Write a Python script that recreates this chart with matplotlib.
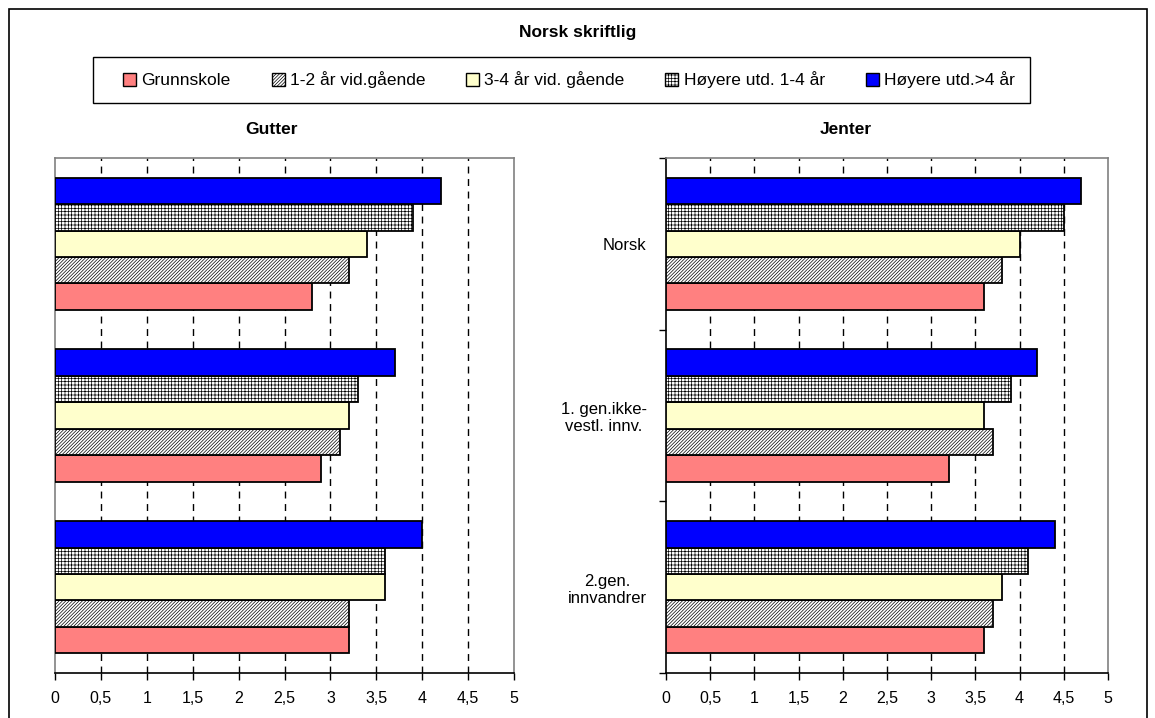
import matplotlib
matplotlib.use("Agg")
import matplotlib.pyplot as plt
import numpy as np
from matplotlib.patches import Rectangle, Patch
from matplotlib.ticker import FuncFormatter

plt.rcParams['font.family'] = ['Liberation Sans', 'DejaVu Sans']
plt.rcParams['hatch.linewidth'] = 0.5

# ---------------- data ----------------
title = "Norsk skriftlig"
panel_titles = ["Gutter", "Jenter"]
categories = ["Norsk", "1. gen.ikke-\nvestl. innv.", "2.gen.\ninnvandrer"]
series = ["Grunnskole", "1-2 år vid.gående", "3-4 år vid. gående",
          "Høyere utd. 1-4 år", "Høyere utd.>4 år"]

gutter_grunnskole = [2.8, 2.9, 3.2]
gutter_vg12 = [3.2, 3.1, 3.2]
gutter_vg34 = [3.4, 3.2, 3.6]
gutter_hoy14 = [3.9, 3.3, 3.6]
gutter_hoy4 = [4.2, 3.7, 4.0]

jenter_grunnskole = [3.6, 3.2, 3.6]
jenter_vg12 = [3.8, 3.7, 3.7]
jenter_vg34 = [4.0, 3.6, 3.8]
jenter_hoy14 = [4.5, 3.9, 4.1]
jenter_hoy4 = [4.7, 4.2, 4.4]

x_ticks = [0, 0.5, 1, 1.5, 2, 2.5, 3, 3.5, 4, 4.5, 5]

# ---------------- style ----------------
styles = [
    dict(facecolor="#FF8080", hatch=None),
    dict(facecolor="white", hatch="//////////"),
    dict(facecolor="#FFFFCC", hatch=None),
    dict(facecolor="white", hatch="+++++"),
    dict(facecolor="#0000FF", hatch=None),
]

W, H = 1155, 718
fig = plt.figure(figsize=(W / 100, H / 100), dpi=100)

# outer border
fig.patches.append(Rectangle((9 / W, -0.02), (1147 - 9) / W, 1 - 9 / H + 0.02,
                             transform=fig.transFigure, fill=False,
                             edgecolor="black", lw=1.2))
# legend frame
fig.patches.append(Rectangle((93 / W, 1 - 103 / H), (1030 - 93) / W, 46 / H,
                             transform=fig.transFigure, fill=False,
                             edgecolor="black", lw=1.0))


def rect(x0, x1, ytop, ybot):
    return [x0 / W, 1 - ybot / H, (x1 - x0) / W, (ybot - ytop) / H]


ax_l = fig.add_axes(rect(55, 514, 158, 673))
ax_r = fig.add_axes(rect(666, 1108, 158, 673))

panels = [
    (ax_l, [gutter_grunnskole, gutter_vg12, gutter_vg34, gutter_hoy14, gutter_hoy4]),
    (ax_r, [jenter_grunnskole, jenter_vg12, jenter_vg34, jenter_hoy14, jenter_hoy4]),
]

bh = 0.154
ypos = np.arange(len(categories))
for ax, vals in panels:
    for j, (v, st) in enumerate(zip(vals, styles)):
        ax.barh(ypos + (2 - j) * bh, v, height=bh, color=st["facecolor"],
                hatch=st["hatch"], edgecolor="black", linewidth=1.3,
                zorder=3, label=series[j])
    for t in x_ticks[1:-1]:
        ax.axvline(t, color="black", lw=1.0, ls=(0, (5, 4)), zorder=1)
    ax.set_xlim(0, 5)
    ax.set_ylim(2.5, -0.5)
    ax.set_xticks(x_ticks)
    ax.xaxis.set_major_formatter(FuncFormatter(lambda x, p: ("%g" % x).replace(".", ",")))
    ax.tick_params(axis="x", direction="out", length=5, width=1, labelsize=11.5, pad=8)
    for s in ["top", "right"]:
        ax.spines[s].set_color("#808080")
        ax.spines[s].set_linewidth(1.2)
    ax.spines["bottom"].set_color("black")
    ax.spines["bottom"].set_linewidth(1.2)

# left panel: no y labels, gray left frame
ax_l.spines["left"].set_color("#808080")
ax_l.spines["left"].set_linewidth(1.2)
ax_l.set_yticks([])

# right panel: black y axis with boundary ticks and category labels
ax_r.spines["left"].set_color("black")
ax_r.spines["left"].set_linewidth(1.2)
ax_r.set_yticks([-0.5, 0.5, 1.5, 2.5])
ax_r.set_yticklabels([])
ax_r.tick_params(axis="y", which="major", direction="out", length=5, width=1)
ax_r.set_yticks(ypos, minor=True)
ax_r.set_yticklabels(categories, minor=True, fontsize=12, multialignment="center")
ax_r.tick_params(axis="y", which="minor", length=0, pad=14)

# titles
fig.text(578 / W, 1 - 33 / H, title, ha="center", va="center",
         fontsize=12.5, fontweight="bold")
fig.text(272 / W, 1 - 129 / H, panel_titles[0], ha="center", va="center",
         fontsize=12.5, fontweight="bold")
fig.text(846 / W, 1 - 129 / H, panel_titles[1], ha="center", va="center",
         fontsize=12.5, fontweight="bold")

# legend (content only; frame drawn above)
handles = [Patch(facecolor=st["facecolor"], hatch=st["hatch"], edgecolor="black",
                 linewidth=1.0) for st in styles]
leg = fig.legend(handles, series, loc="center", bbox_to_anchor=(569 / W, 1 - 80 / H),
                 ncol=5, frameon=False, fontsize=12.5, handlelength=0.75,
                 handleheight=0.75, handletextpad=0.3, columnspacing=2.35,
                 borderpad=0.2, borderaxespad=0)

fig.savefig("out.png", dpi=100, facecolor="white")
